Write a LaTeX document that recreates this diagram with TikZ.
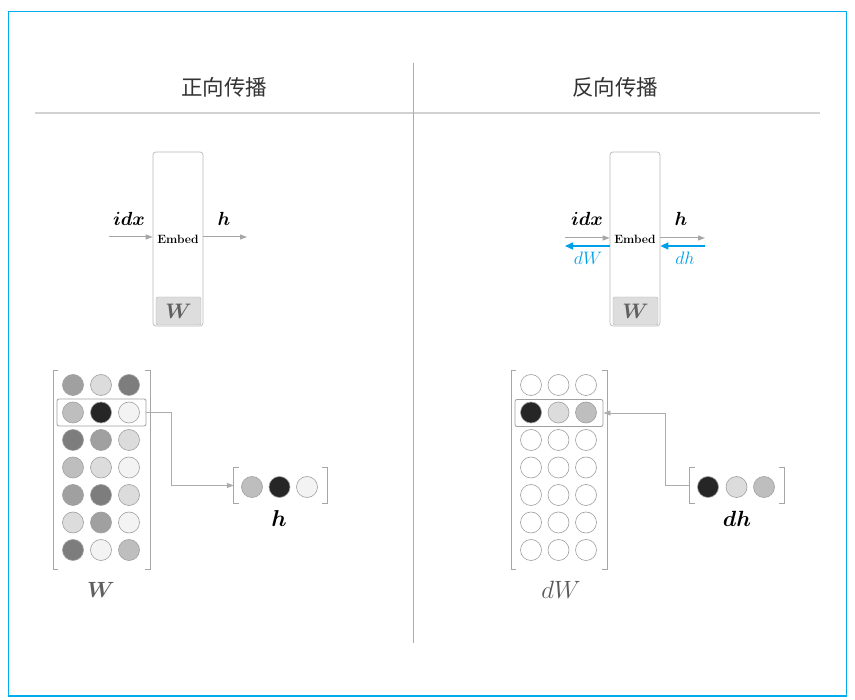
\RequirePackage{fix-cm}
\documentclass[tikz,border=0pt]{standalone}
\usepackage{amsmath, amssymb}
\usepackage{fontspec}
\newfontfamily\cjk{Noto Sans CJK SC}
\usepackage{tikz}
\usetikzlibrary{arrows.meta}

\definecolor{framecyan}{RGB}{0,174,239}
\definecolor{gradblue}{RGB}{0,160,233}
\definecolor{c1}{RGB}{243,243,243}
\definecolor{c2}{RGB}{220,220,220}
\definecolor{c3}{RGB}{190,190,190}
\definecolor{c4}{RGB}{160,160,160}
\definecolor{c5}{RGB}{125,125,125}
\definecolor{c6}{RGB}{38,38,38}

\begin{document}
\begin{tikzpicture}[
    x=1pt,y=-1pt,
    cell/.style={circle, draw=gray!75, line width=0.6pt, minimum size=21pt, inner sep=0pt},
    rowbox/.style={draw=gray!75, line width=0.8pt, rounded corners=2pt, minimum height=27pt, inner sep=0pt},
    brack/.style={gray!70, line width=0.8pt},
    embed/.style={draw=gray!55, line width=0.7pt, rounded corners=3pt, minimum width=50pt, minimum height=174pt,
      inner sep=0pt, font=\fontsize{12}{14}\selectfont\bfseries},
    wbox/.style={draw=gray!60, fill=gray!27, rounded corners=2pt, minimum width=45pt,
      minimum height=28pt, inner sep=0pt, text=gray!75!black, font=\fontsize{21}{24}\selectfont},
    flow/.style={gray!70, line width=1pt, -{Triangle[length=7pt,width=5pt]}},
    back/.style={gradblue, line width=1.5pt, -{Triangle[length=8pt,width=7pt]}},
    link/.style={gray!65, line width=0.8pt, -{Triangle[length=7pt,width=5pt]}},
    lbl/.style={font=\fontsize{19}{22}\selectfont},
    blbl/.style={text=gradblue, font=\fontsize{18}{20}\selectfont},
    big/.style={font=\fontsize{23}{26}\selectfont}
    ]
    \useasboundingbox (0,0) rectangle (855,700);
    \draw[framecyan, line width=1.2pt] (8.5,11.5) rectangle (846.5,696);

    % titles and rules
    \node[font=\fontsize{21.5}{25}\selectfont\cjk, text=black!80] (fwd) at (224,87) {正向传播};
    \node[font=\fontsize{21.5}{25}\selectfont\cjk, text=black!80] (bwd) at (615,87) {反向传播};
    \draw[gray!35, line width=2pt] (35,113.5) -- (820,113.5);
    \draw[gray!65, line width=1pt] (413,63) -- (413,643);

    % forward: Embed layer
    \node[embed] (embL) at (178,239) {Embed};
    \node[wbox] (wL) at (178.5,311) {$\boldsymbol{W}$};
    \coordinate (inL) at (109,237);
    \coordinate (outL) at (247,237);
    \draw[flow] (inL) -- (embL.west |- inL);
    \draw[flow] (embL.east |- outL) -- (outL);
    \node[lbl] (idxL) at (129,219) {$\boldsymbol{idx}$};
    \node[lbl] (hL) at (224,219) {$\boldsymbol{h}$};

    % backward: Embed layer
    \node[embed] (embR) at (635,239) {Embed};
    \node[wbox] (wR) at (635.5,311) {$\boldsymbol{W}$};
    \coordinate (inR) at (565,238);
    \coordinate (outR) at (705,238);
    \coordinate (dWR) at (565,246);
    \coordinate (dhR) at (705,246);
    \draw[flow] (inR) -- (embR.west |- inR);
    \draw[flow] (embR.east |- outR) -- (outR);
    \draw[back] (embR.west |- dWR) -- (dWR);
    \draw[back] (dhR) -- (embR.east |- dhR);
    \node[lbl] (idxR) at (587,219) {$\boldsymbol{idx}$};
    \node[lbl] (hR) at (681,219) {$\boldsymbol{h}$};
    \node[blbl] (dWlbl) at (588,258) {$dW$};
    \node[blbl] (dhlbl) at (685,258) {$dh$};

    % forward: W matrix
    \draw[brack] (58,370) -- (53,370) -- (53,569) -- (58,569);
    \draw[brack] (145,370) -- (150,370) -- (150,569) -- (145,569);
    \foreach \a/\b/\c [count=\r] in {c4/c2/c5, c3/c6/c1, c5/c4/c2, c3/c2/c1,
                                     c4/c5/c2, c2/c4/c1, c5/c1/c3} {
      \node[cell, fill=\a] (w-\r-1) at (73,357.5+27.5*\r) {};
      \node[cell, fill=\b] (w-\r-2) at (101,357.5+27.5*\r) {};
      \node[cell, fill=\c] (w-\r-3) at (129,357.5+27.5*\r) {};
    }
    \node[rowbox, minimum width=89pt] (wrow) at (101.5,412.5) {};
    \node[font=\fontsize{22}{25}\selectfont, text=gray!75!black] (Wlbl) at (101,590) {$\boldsymbol{W}$};

    % forward: h vector
    \node[minimum width=93pt, minimum height=35pt, inner sep=0pt] (hvec) at (280.5,485.5) {};
    \draw[brack] ([xshift=5pt]hvec.north west) -- (hvec.north west) -- (hvec.south west) -- ([xshift=5pt]hvec.south west);
    \draw[brack] ([xshift=-5pt]hvec.north east) -- (hvec.north east) -- (hvec.south east) -- ([xshift=-5pt]hvec.south east);
    \node[cell, fill=c3] (h-1) at (252,487) {};
    \node[cell, fill=c6] (h-2) at (279.5,487) {};
    \node[cell, fill=c1] (h-3) at (307,487) {};
    \node[big] (hlbl) at (279,519) {$\boldsymbol{h}$};
    \draw[link] (wrow.east) -- ++(25,0) |- (hvec.west);

    % backward: dW matrix
    \draw[brack] (516,370) -- (511,370) -- (511,569) -- (516,569);
    \draw[brack] (602,370) -- (607,370) -- (607,569) -- (602,569);
    \foreach \a/\b/\c [count=\r] in {white/white/white, c6/c2/c3, white/white/white,
                                     white/white/white, white/white/white,
                                     white/white/white, white/white/white} {
      \node[cell, fill=\a] (dw-\r-1) at (531,357.5+27.5*\r) {};
      \node[cell, fill=\b] (dw-\r-2) at (558.5,357.5+27.5*\r) {};
      \node[cell, fill=\c] (dw-\r-3) at (586,357.5+27.5*\r) {};
    }
    \node[rowbox, minimum width=88pt] (dwrow) at (559,413) {};
    \node[font=\fontsize{25}{28}\selectfont, text=gray!70!black] (dWbig) at (561,590) {$dW$};

    % backward: dh vector
    \node[minimum width=94pt, minimum height=35pt, inner sep=0pt] (dhvec) at (737,485.5) {};
    \draw[brack] ([xshift=5pt]dhvec.north west) -- (dhvec.north west) -- (dhvec.south west) -- ([xshift=5pt]dhvec.south west);
    \draw[brack] ([xshift=-5pt]dhvec.north east) -- (dhvec.north east) -- (dhvec.south east) -- ([xshift=-5pt]dhvec.south east);
    \node[cell, fill=c6] (dh-1) at (708,487) {};
    \node[cell, fill=c2] (dh-2) at (736.5,487) {};
    \node[cell, fill=c3] (dh-3) at (764,487) {};
    \node[font=\fontsize{22}{25}\selectfont] (dhbig) at (737,519) {$\boldsymbol{dh}$};
    \draw[link] (dhvec.west) -- ++(-24,0) |- (dwrow.east);
  \end{tikzpicture}
\end{document}
